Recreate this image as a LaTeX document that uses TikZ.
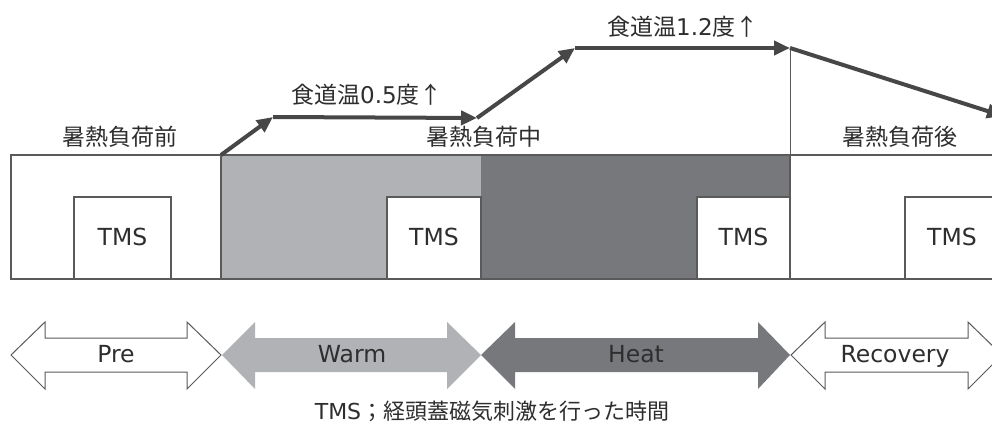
\documentclass[tikz,border=0pt]{standalone}
\usepackage{fontspec}
\setmainfont{Noto Sans CJK JP}
\newfontfamily\lat{DejaVu Sans}
\usetikzlibrary{arrows.meta}
\definecolor{warmc}{HTML}{B1B2B6}
\definecolor{heatc}{HTML}{77787C}
\definecolor{linec}{HTML}{5A5A5A}
\definecolor{txtc}{HTML}{2E2E2E}
\definecolor{thickc}{HTML}{474747}
\tikzset{
  box/.style={draw=linec, line width=1.3pt},
  lbl/.style={text=txtc, font=\fontsize{23}{27}\selectfont, inner sep=0pt},
  tms/.style={text=txtc, font=\fontsize{23.5}{28}\selectfont\lat, inner sep=0pt},
  temp/.style={draw=thickc, line width=4pt, -{Triangle[length=16pt,width=14pt]}},
  barrow/.style={draw=linec, line width=1pt},
}
\begin{document}
\begin{tikzpicture}[x=1pt,y=-1pt]
\useasboundingbox (0,0) rectangle (992,433);
\clip (0,0) rectangle (992,433);
\fill[white] (0,0) rectangle (992,433);
% phase fills
\fill[warmc] (221,155) rectangle (481,279);
\fill[heatc] (481,155) rectangle (790,279);
% outer box
\draw[box] (1010,155) -- (11,155) -- (11,279) -- (1010,279);
\draw[box] (221,155) -- (221,279);
\draw[box] (790,155) -- (790,279);
\draw[linec, line width=0.7pt] (790,49) -- (790,155);
% TMS boxes
\draw[box, fill=white] (74,197) rectangle (171,279);
\draw[box, fill=white] (387,197) rectangle (481,279);
\draw[box, fill=white] (697,197) rectangle (790,279);
\draw[box, fill=white] (905,197) rectangle (1010,279);
\node[tms] (t1) at (122.5,237) {TMS};
\node[tms] (t2) at (434,237) {TMS};
\node[tms] (t3) at (743.5,237) {TMS};
\node[tms] (t4) at (952,237) {TMS};
% phase labels
\node[lbl] (l1) at (120,137) {暑熱負荷前};
\node[lbl] (l2) at (484,137) {暑熱負荷中};
\node[lbl] (l3) at (900,137) {暑熱負荷後};
% temperature path
\coordinate (p0) at (221,155);
\coordinate (p1) at (273,117);
\coordinate (p2) at (477,118);
\coordinate (p3) at (575,48);
\coordinate (p4) at (790,48);
\coordinate (p5) at (1003,116);
\draw[temp] (p0) -- (p1);
\draw[temp] (p1) -- (p2);
\draw[temp] (p2) -- (p3);
\draw[temp] (p3) -- (p4);
\draw[temp] (p4) -- (p5);
\node[lbl] (e1) at (367,95) {食道温{\lat 0.5}度↑};
\node[lbl] (e2) at (683,27) {食道温{\lat 1.2}度↑};
% bottom double arrows
\draw[barrow, fill=white] (11,355) -- (45,322) -- (45,338) -- (187,338) -- (187,322) -- (221,355) -- (187,389) -- (187,372) -- (45,372) -- (45,389) -- cycle;
\fill[warmc] (222,355) -- (255,322) -- (255,338) -- (447,338) -- (447,322) -- (481,355) -- (447,389) -- (447,372) -- (255,372) -- (255,389) -- cycle;
\fill[heatc] (481,355) -- (515,322) -- (515,338) -- (758,338) -- (758,322) -- (790,355) -- (758,389) -- (758,372) -- (515,372) -- (515,389) -- cycle;
\draw[barrow, fill=white] (791,355) -- (825,322) -- (825,338) -- (968,338) -- (968,322) -- (1002,355) -- (968,389) -- (968,372) -- (825,372) -- (825,389) -- cycle;
\node[tms, anchor=base] (b1) at (116,362) {Pre};
\node[tms, anchor=base] (b2) at (352,362) {Warm};
\node[tms, anchor=base] (b3) at (636,362) {Heat};
\node[tms, anchor=base] (b4) at (895,362) {Recovery};
% caption
\node[lbl, font=\fontsize{22}{26}\selectfont] (cap) at (492,411) {{\lat TMS}；経頭蓋磁気刺激を行った時間};
\end{tikzpicture}
\end{document}
